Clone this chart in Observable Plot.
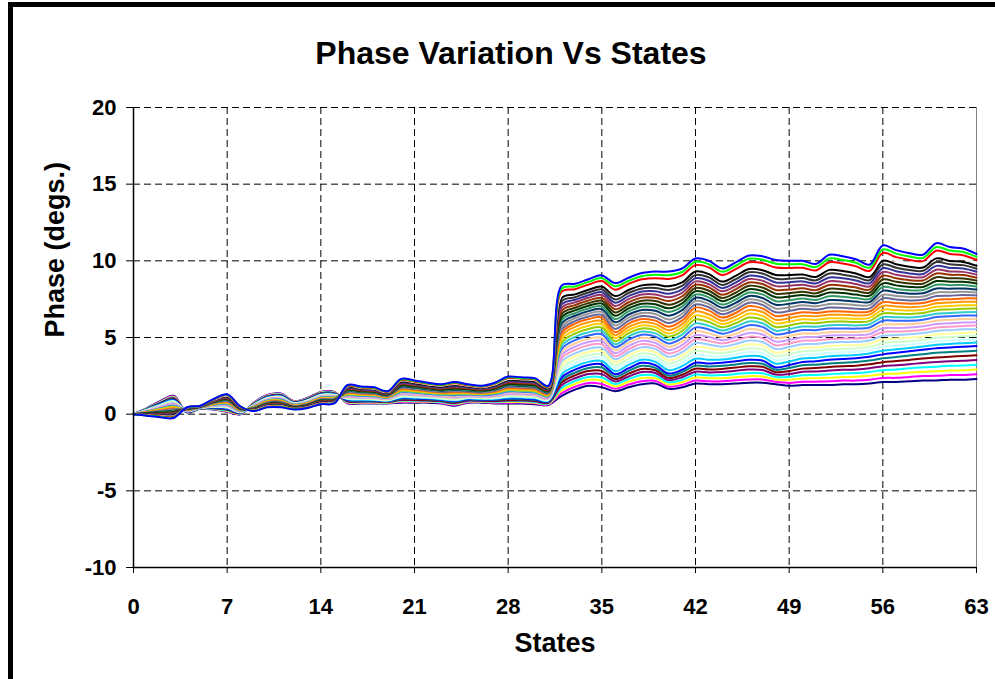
<!DOCTYPE html>
<html><head><meta charset="utf-8">
<script src="https://cdn.jsdelivr.net/npm/d3@7"></script>
<script src="https://cdn.jsdelivr.net/npm/@observablehq/plot@0.6"></script>
<style>
html,body{margin:0;padding:0;background:#fff;}
#wrap{position:relative;width:995px;height:679px;overflow:hidden;background:#fff;}
#chart{position:absolute;left:0;top:0;}
#frame{position:absolute;left:8px;top:2px;width:1100px;height:800px;border:5px solid #000;box-sizing:border-box;pointer-events:none;}
</style></head><body>
<div id="wrap"><div id="chart"></div><div id="frame"></div></div>
<script>
const chartTitle = "Phase Variation Vs States";
const xTitle = "States";
const yTitle = "Phase (degs.)";
const xTicks = [0,7,14,21,28,35,42,49,56,63];
const yTicks = [-10,-5,0,5,10,15,20];
const seriesColors = ["#000080","#FF00FF","#FFFF00","#00FFFF","#800080","#800000","#008080","#0000FF",
 "#00CCFF","#CCFFFF","#CCFFCC","#FFFF99","#99CCFF","#FF99CC","#CC99FF","#FFCC99","#3366FF","#33CCCC",
 "#99CC00","#FFCC00","#FF9900","#FF6600","#666699","#969696","#003366","#339966","#003300","#333300",
 "#993300","#993366","#333399","#333333","#000000","#FFFFFF","#FF0000","#00FF00","#0000FF"];
// phase (degs.) of each of the 37 series, one row per state 0..31
const phaseEarly = [
[0,0,0,0,0,0,0,0,0,0,0,0,0,0,0,0,0,0,0,0,0,0,0,0,0,0,0,0,0,0,0,0,0,0,0,0,0],
[.40,.39,.37,.36,.34,.33,.32,.30,.29,.28,.26,.25,.23,.22,.21,.19,.18,.16,.15,.14,.12,.11,.09,.08,.07,.05,.04,.03,.01,0,-.02,-.03,-.04,-.06,-.07,-.09,-.10],
[.85,.82,.79,.76,.73,.70,.68,.65,.62,.59,.56,.53,.50,.47,.44,.41,.38,.35,.33,.30,.27,.24,.21,.18,.15,.12,.09,.06,.03,0,-.03,-.05,-.08,-.11,-.14,-.17,-.20],
[1.20,1.16,1.12,1.08,1.04,1.00,.96,.92,.88,.84,.80,.76,.72,.68,.64,.60,.56,.52,.48,.43,.39,.35,.31,.27,.23,.19,.15,.11,.07,.03,-.01,-.05,-.09,-.13,-.17,-.21,-.25],
[.10,.11,.12,.13,.14,.15,.16,.17,.18,.19,.20,.21,.22,.23,.24,.25,.26,.27,.28,.28,.29,.30,.31,.32,.33,.34,.35,.36,.37,.38,.39,.40,.41,.42,.43,.44,.45],
[.35,.36,.36,.37,.37,.38,.38,.39,.39,.40,.41,.41,.42,.42,.43,.43,.44,.44,.45,.46,.46,.47,.47,.48,.48,.49,.49,.50,.51,.51,.52,.52,.53,.53,.54,.54,.55],
[.30,.32,.34,.36,.38,.40,.42,.44,.46,.48,.49,.51,.53,.55,.57,.59,.61,.63,.65,.67,.69,.71,.73,.75,.77,.79,.81,.83,.84,.86,.88,.90,.92,.94,.96,.98,1.00],
[.15,.18,.21,.25,.28,.31,.34,.37,.41,.44,.47,.50,.53,.57,.60,.63,.66,.69,.73,.76,.79,.82,.85,.89,.92,.95,.98,1.01,1.04,1.08,1.11,1.14,1.17,1.20,1.24,1.27,1.30],
[0,.01,.03,.04,.06,.07,.08,.10,.11,.13,.14,.15,.17,.18,.19,.21,.22,.24,.25,.26,.28,.29,.31,.32,.33,.35,.36,.38,.39,.40,.42,.43,.44,.46,.47,.49,.50],
[.75,.73,.72,.70,.69,.67,.66,.64,.63,.61,.60,.58,.57,.55,.54,.52,.51,.49,.48,.46,.44,.43,.41,.40,.38,.37,.35,.34,.32,.31,.29,.28,.26,.25,.23,.22,.20],
[1.25,1.23,1.21,1.18,1.16,1.14,1.12,1.09,1.07,1.05,1.03,1.01,.98,.96,.94,.92,.89,.87,.85,.83,.81,.78,.76,.74,.72,.69,.67,.65,.63,.61,.58,.56,.54,.52,.49,.47,.45],
[1.35,1.33,1.30,1.28,1.25,1.23,1.20,1.18,1.15,1.13,1.10,1.08,1.05,1.03,1.00,.98,.95,.93,.90,.88,.85,.83,.80,.78,.75,.73,.70,.68,.65,.63,.60,.58,.55,.53,.50,.48,.45],
[.85,.83,.82,.80,.79,.77,.76,.74,.73,.71,.70,.68,.67,.65,.64,.62,.61,.59,.58,.56,.54,.53,.51,.50,.48,.47,.45,.44,.42,.41,.39,.38,.36,.35,.33,.32,.30],
[1.05,1.03,1.01,1.00,.98,.96,.94,.92,.91,.89,.87,.85,.83,.81,.80,.78,.76,.74,.73,.71,.69,.67,.65,.64,.62,.60,.58,.56,.54,.53,.51,.49,.47,.45,.44,.42,.40],
[1.45,1.43,1.41,1.38,1.36,1.34,1.32,1.29,1.27,1.25,1.23,1.21,1.18,1.16,1.14,1.12,1.09,1.07,1.05,1.03,1.01,.98,.96,.94,.92,.89,.87,.85,.83,.81,.78,.76,.74,.72,.69,.67,.65],
[1.45,1.43,1.41,1.39,1.37,1.35,1.33,1.30,1.28,1.26,1.24,1.22,1.20,1.18,1.16,1.14,1.12,1.10,1.08,1.05,1.03,1.01,.99,.97,.95,.93,.91,.89,.87,.85,.83,.80,.78,.76,.74,.72,.70],
[.70,.73,.77,.80,.83,.87,.90,.93,.97,1.00,1.03,1.07,1.10,1.13,1.17,1.20,1.23,1.27,1.30,1.33,1.37,1.40,1.43,1.47,1.50,1.53,1.57,1.60,1.63,1.67,1.70,1.73,1.77,1.80,1.83,1.87,1.90],
[.70,.73,.76,.79,.82,.85,.88,.91,.94,.98,1.01,1.04,1.07,1.10,1.13,1.16,1.19,1.22,1.25,1.28,1.31,1.34,1.37,1.40,1.43,1.46,1.49,1.53,1.56,1.59,1.62,1.65,1.68,1.71,1.74,1.77,1.80],
[.70,.73,.76,.79,.82,.85,.88,.90,.93,.96,.99,1.02,1.05,1.08,1.11,1.14,1.17,1.20,1.23,1.25,1.28,1.31,1.34,1.37,1.40,1.43,1.46,1.49,1.52,1.55,1.58,1.60,1.63,1.66,1.69,1.72,1.75],
[.70,.72,.74,.77,.79,.81,.83,.86,.88,.90,.92,.94,.97,.99,1.01,1.03,1.06,1.08,1.10,1.12,1.14,1.17,1.19,1.21,1.23,1.26,1.28,1.30,1.32,1.34,1.37,1.39,1.41,1.43,1.46,1.48,1.50],
[.75,.79,.84,.88,.92,.97,1.01,1.05,1.09,1.14,1.18,1.22,1.27,1.31,1.35,1.40,1.44,1.48,1.53,1.57,1.61,1.65,1.70,1.74,1.78,1.83,1.87,1.91,1.96,2.00,2.04,2.09,2.13,2.17,2.21,2.26,2.30],
[.75,.79,.83,.87,.91,.95,.99,1.03,1.07,1.11,1.15,1.19,1.23,1.27,1.31,1.35,1.39,1.43,1.47,1.52,1.56,1.60,1.64,1.68,1.72,1.76,1.80,1.84,1.88,1.92,1.96,2.00,2.04,2.08,2.12,2.16,2.20],
[.75,.79,.82,.86,.89,.93,.97,1.00,1.04,1.08,1.11,1.15,1.18,1.22,1.26,1.29,1.33,1.36,1.40,1.44,1.47,1.51,1.54,1.58,1.62,1.65,1.69,1.73,1.76,1.80,1.83,1.87,1.91,1.94,1.98,2.01,2.05],
[.70,.73,.77,.80,.84,.87,.91,.94,.98,1.01,1.05,1.08,1.12,1.15,1.19,1.22,1.26,1.29,1.33,1.36,1.39,1.43,1.46,1.50,1.53,1.57,1.60,1.64,1.67,1.71,1.74,1.78,1.81,1.85,1.88,1.92,1.95],
[.55,.59,.64,.68,.72,.77,.81,.85,.89,.94,.98,1.02,1.07,1.11,1.15,1.20,1.24,1.28,1.33,1.37,1.41,1.45,1.50,1.54,1.58,1.63,1.67,1.71,1.76,1.80,1.84,1.89,1.93,1.97,2.01,2.06,2.10],
[.75,.78,.82,.85,.88,.92,.95,.98,1.02,1.05,1.08,1.12,1.15,1.18,1.22,1.25,1.28,1.32,1.35,1.38,1.42,1.45,1.48,1.52,1.55,1.58,1.62,1.65,1.68,1.72,1.75,1.78,1.82,1.85,1.88,1.92,1.95],
[.75,.78,.81,.84,.87,.90,.93,.96,.99,1.03,1.06,1.09,1.12,1.15,1.18,1.21,1.24,1.27,1.30,1.33,1.36,1.39,1.42,1.45,1.48,1.51,1.54,1.58,1.61,1.64,1.67,1.70,1.73,1.76,1.79,1.82,1.85],
[.70,.74,.78,.81,.85,.89,.93,.96,1.00,1.04,1.08,1.11,1.15,1.19,1.23,1.26,1.30,1.34,1.38,1.41,1.45,1.49,1.53,1.56,1.60,1.64,1.68,1.71,1.75,1.79,1.83,1.86,1.90,1.94,1.98,2.01,2.05],
[.70,.75,.80,.85,.89,.94,.99,1.04,1.09,1.14,1.19,1.24,1.28,1.33,1.38,1.43,1.48,1.53,1.58,1.62,1.67,1.72,1.77,1.82,1.87,1.92,1.96,2.01,2.06,2.11,2.16,2.21,2.26,2.30,2.35,2.40,2.45],
[.70,.75,.79,.84,.89,.94,.98,1.03,1.08,1.13,1.17,1.22,1.27,1.31,1.36,1.41,1.46,1.50,1.55,1.60,1.64,1.69,1.74,1.79,1.83,1.88,1.93,1.98,2.02,2.07,2.12,2.16,2.21,2.26,2.31,2.35,2.40],
[.65,.70,.74,.79,.84,.89,.93,.98,1.03,1.08,1.12,1.17,1.22,1.26,1.31,1.36,1.41,1.45,1.50,1.55,1.59,1.64,1.69,1.74,1.78,1.83,1.88,1.93,1.97,2.02,2.07,2.11,2.16,2.21,2.26,2.30,2.35],
[.60,.63,.67,.70,.74,.77,.81,.84,.88,.91,.95,.98,1.02,1.05,1.09,1.12,1.16,1.19,1.23,1.26,1.29,1.33,1.36,1.40,1.43,1.47,1.50,1.54,1.57,1.61,1.64,1.68,1.71,1.75,1.78,1.82,1.85]
];
// phase (degs.) of each of the 37 series, one row per state 32..63
const phaseLate = [
[1.20,1.37,1.54,1.71,1.89,2.06,2.23,2.40,2.61,2.81,3.02,3.23,3.44,3.64,3.85,4.06,4.26,4.47,4.68,4.89,5.09,5.30,5.51,5.71,5.92,6.13,6.33,6.54,6.75,6.95,7.16,7.37,7.57,7.78,7.99,8.19,8.40],
[1.60,1.79,1.97,2.16,2.34,2.53,2.71,2.90,3.11,3.33,3.54,3.76,3.97,4.19,4.40,4.61,4.83,5.04,5.26,5.47,5.69,5.90,6.07,6.25,6.42,6.59,6.77,6.94,7.11,7.29,7.46,7.63,7.81,7.98,8.15,8.33,8.50],
[1.85,2.04,2.24,2.43,2.62,2.81,3.01,3.20,3.41,3.63,3.84,4.06,4.27,4.49,4.70,4.91,5.13,5.34,5.56,5.77,5.99,6.20,6.37,6.55,6.72,6.89,7.07,7.24,7.41,7.59,7.76,7.93,8.11,8.28,8.45,8.63,8.80],
[1.75,1.96,2.18,2.39,2.61,2.82,3.04,3.25,3.47,3.69,3.90,4.12,4.34,4.56,4.78,4.99,5.21,5.43,5.65,5.86,6.08,6.30,6.48,6.67,6.85,7.03,7.22,7.40,7.58,7.77,7.95,8.13,8.32,8.50,8.68,8.87,9.05],
[1.50,1.66,1.81,1.97,2.13,2.29,2.44,2.60,2.80,2.99,3.19,3.39,3.58,3.78,3.98,4.17,4.37,4.56,4.76,4.96,5.15,5.35,5.56,5.78,5.99,6.20,6.42,6.63,6.84,7.06,7.27,7.48,7.70,7.91,8.12,8.34,8.55],
[1.75,1.93,2.11,2.29,2.46,2.64,2.82,3.00,3.21,3.41,3.62,3.83,4.04,4.24,4.45,4.66,4.86,5.07,5.28,5.49,5.69,5.90,6.10,6.30,6.50,6.70,6.90,7.10,7.30,7.50,7.70,7.90,8.10,8.30,8.50,8.70,8.90],
[1.95,2.15,2.35,2.55,2.75,2.95,3.15,3.35,3.55,3.76,3.96,4.16,4.37,4.57,4.78,4.98,5.18,5.39,5.59,5.79,6.00,6.20,6.40,6.60,6.80,7.00,7.20,7.40,7.60,7.80,8.00,8.20,8.40,8.60,8.80,9.00,9.20],
[2.00,2.17,2.34,2.51,2.69,2.86,3.03,3.20,3.41,3.61,3.82,4.03,4.24,4.44,4.65,4.86,5.06,5.27,5.48,5.69,5.89,6.10,6.31,6.53,6.74,6.95,7.17,7.38,7.59,7.81,8.02,8.23,8.45,8.66,8.87,9.09,9.30],
[1.65,1.79,1.94,2.08,2.22,2.36,2.51,2.65,2.87,3.09,3.30,3.52,3.74,3.96,4.18,4.39,4.61,4.83,5.05,5.26,5.48,5.70,5.94,6.18,6.42,6.66,6.90,7.14,7.38,7.62,7.86,8.10,8.34,8.58,8.82,9.06,9.30],
[1.75,1.91,2.08,2.24,2.41,2.57,2.74,2.90,3.13,3.36,3.59,3.81,4.04,4.27,4.50,4.73,4.96,5.19,5.41,5.64,5.87,6.10,6.33,6.55,6.78,7.01,7.23,7.46,7.69,7.91,8.14,8.37,8.59,8.82,9.05,9.27,9.50],
[2.00,2.19,2.39,2.58,2.77,2.96,3.16,3.35,3.61,3.86,4.12,4.38,4.64,4.89,5.15,5.41,5.66,5.92,6.18,6.44,6.69,6.95,7.16,7.38,7.59,7.80,8.02,8.23,8.44,8.66,8.87,9.08,9.30,9.51,9.72,9.94,10.15],
[1.95,2.14,2.34,2.53,2.72,2.91,3.11,3.30,3.55,3.79,4.04,4.29,4.53,4.78,5.03,5.27,5.52,5.76,6.01,6.26,6.50,6.75,6.97,7.18,7.40,7.62,7.83,8.05,8.27,8.48,8.70,8.92,9.13,9.35,9.57,9.78,10.00],
[1.95,2.15,2.35,2.55,2.75,2.95,3.15,3.35,3.56,3.77,3.98,4.19,4.40,4.61,4.82,5.04,5.25,5.46,5.67,5.88,6.09,6.30,6.51,6.73,6.94,7.15,7.37,7.58,7.79,8.01,8.22,8.43,8.65,8.86,9.07,9.29,9.50],
[2.00,2.21,2.41,2.62,2.83,3.04,3.24,3.45,3.68,3.90,4.13,4.35,4.58,4.80,5.03,5.25,5.48,5.70,5.93,6.15,6.38,6.60,6.82,7.04,7.26,7.48,7.70,7.92,8.14,8.36,8.58,8.80,9.02,9.24,9.46,9.68,9.90],
[2.05,2.26,2.48,2.69,2.91,3.12,3.34,3.55,3.80,4.05,4.30,4.55,4.80,5.05,5.30,5.55,5.80,6.05,6.30,6.55,6.80,7.05,7.27,7.49,7.71,7.93,8.15,8.37,8.59,8.81,9.03,9.25,9.47,9.69,9.91,10.13,10.35],
[2.05,2.26,2.46,2.67,2.88,3.09,3.29,3.50,3.74,3.99,4.23,4.47,4.71,4.96,5.20,5.44,5.69,5.93,6.17,6.41,6.66,6.90,7.13,7.35,7.58,7.81,8.03,8.26,8.49,8.71,8.94,9.17,9.39,9.62,9.85,10.07,10.30],
[1.95,2.11,2.26,2.42,2.58,2.74,2.89,3.05,3.29,3.53,3.77,4.01,4.25,4.49,4.73,4.96,5.20,5.44,5.68,5.92,6.16,6.40,6.64,6.89,7.13,7.37,7.62,7.86,8.10,8.35,8.59,8.83,9.08,9.32,9.56,9.81,10.05],
[1.85,2.04,2.24,2.43,2.62,2.81,3.01,3.20,3.44,3.67,3.91,4.14,4.38,4.61,4.85,5.09,5.32,5.56,5.79,6.03,6.26,6.50,6.73,6.97,7.20,7.43,7.67,7.90,8.13,8.37,8.60,8.83,9.07,9.30,9.53,9.77,10.00],
[1.90,2.11,2.33,2.54,2.76,2.97,3.19,3.40,3.63,3.86,4.10,4.33,4.56,4.79,5.02,5.26,5.49,5.72,5.95,6.19,6.42,6.65,6.87,7.10,7.32,7.54,7.77,7.99,8.21,8.44,8.66,8.88,9.11,9.33,9.55,9.78,10.00],
[1.90,2.12,2.34,2.56,2.79,3.01,3.23,3.45,3.68,3.90,4.13,4.35,4.58,4.80,5.03,5.25,5.48,5.70,5.93,6.15,6.38,6.60,6.81,7.03,7.24,7.45,7.67,7.88,8.09,8.31,8.52,8.73,8.95,9.16,9.37,9.59,9.80],
[1.90,2.14,2.37,2.61,2.84,3.08,3.31,3.55,3.78,4.00,4.23,4.45,4.68,4.90,5.13,5.35,5.58,5.80,6.03,6.25,6.48,6.70,6.95,7.19,7.44,7.69,7.93,8.18,8.43,8.67,8.92,9.17,9.41,9.66,9.91,10.15,10.40],
[1.95,2.19,2.42,2.66,2.89,3.13,3.36,3.60,3.82,4.04,4.26,4.49,4.71,4.93,5.15,5.37,5.59,5.81,6.04,6.26,6.48,6.70,6.94,7.18,7.42,7.66,7.90,8.14,8.38,8.62,8.86,9.10,9.34,9.58,9.82,10.06,10.30],
[1.95,2.19,2.44,2.68,2.92,3.16,3.41,3.65,3.86,4.08,4.29,4.51,4.72,4.94,5.15,5.36,5.58,5.79,6.01,6.22,6.44,6.65,6.88,7.11,7.34,7.57,7.80,8.03,8.26,8.49,8.72,8.95,9.18,9.41,9.64,9.87,10.10],
[2.00,2.25,2.50,2.75,3.00,3.25,3.50,3.75,3.96,4.17,4.38,4.59,4.80,5.01,5.22,5.44,5.65,5.86,6.07,6.28,6.49,6.70,6.90,7.11,7.31,7.51,7.72,7.92,8.12,8.33,8.53,8.73,8.94,9.14,9.34,9.55,9.75],
[2.10,2.36,2.61,2.87,3.13,3.39,3.64,3.90,4.14,4.39,4.63,4.87,5.11,5.36,5.60,5.84,6.09,6.33,6.57,6.81,7.06,7.30,7.55,7.79,8.04,8.29,8.53,8.78,9.03,9.27,9.52,9.77,10.01,10.26,10.51,10.75,11.00],
[2.10,2.37,2.64,2.91,3.19,3.46,3.73,4.00,4.23,4.46,4.70,4.93,5.16,5.39,5.62,5.86,6.09,6.32,6.55,6.79,7.02,7.25,7.48,7.71,7.94,8.17,8.40,8.63,8.86,9.09,9.32,9.55,9.78,10.01,10.24,10.47,10.70],
[2.15,2.43,2.71,2.99,3.26,3.54,3.82,4.10,4.32,4.54,4.76,4.99,5.21,5.43,5.65,5.87,6.09,6.31,6.54,6.76,6.98,7.20,7.42,7.64,7.86,8.08,8.30,8.52,8.74,8.96,9.18,9.40,9.62,9.84,10.06,10.28,10.50],
[2.20,2.49,2.77,3.06,3.34,3.63,3.91,4.20,4.42,4.64,4.85,5.07,5.29,5.51,5.73,5.94,6.16,6.38,6.60,6.81,7.03,7.25,7.46,7.67,7.88,8.09,8.30,8.51,8.72,8.93,9.14,9.35,9.56,9.77,9.98,10.19,10.40],
[2.20,2.50,2.80,3.10,3.40,3.70,4.00,4.30,4.53,4.75,4.98,5.20,5.43,5.65,5.88,6.10,6.33,6.55,6.78,7.00,7.23,7.45,7.70,7.94,8.19,8.44,8.68,8.93,9.18,9.42,9.67,9.92,10.16,10.41,10.66,10.90,11.15],
[2.25,2.55,2.85,3.15,3.45,3.75,4.05,4.35,4.58,4.80,5.03,5.25,5.48,5.70,5.93,6.15,6.38,6.60,6.83,7.05,7.28,7.50,7.73,7.95,8.18,8.41,8.63,8.86,9.09,9.31,9.54,9.77,9.99,10.22,10.45,10.67,10.90],
[2.25,2.56,2.86,3.17,3.48,3.79,4.09,4.40,4.63,4.85,5.08,5.30,5.53,5.75,5.98,6.20,6.43,6.65,6.88,7.10,7.33,7.55,7.77,7.98,8.20,8.42,8.63,8.85,9.07,9.28,9.50,9.72,9.93,10.15,10.37,10.58,10.80],
[2.30,2.61,2.91,3.22,3.53,3.84,4.14,4.45,4.67,4.89,5.11,5.34,5.56,5.78,6.00,6.22,6.44,6.66,6.89,7.11,7.33,7.55,7.74,7.94,8.13,8.32,8.52,8.71,8.90,9.10,9.29,9.48,9.68,9.87,10.06,10.26,10.45]
];

const phaseByState = phaseEarly.concat(phaseLate);
const seriesIds = seriesColors.map((c, i) => i + 1);
const rows = [];
seriesIds.forEach((id, k) => {
  phaseByState.forEach((vals, s) => rows.push({state: s, series: id, phase: vals[k]}));
});

const font = "'Liberation Sans', Arial, Helvetica, sans-serif";
const dash = "7,4";
const chart = Plot.plot({
  width: 995, height: 679,
  marginLeft: 133, marginRight: 19, marginTop: 107, marginBottom: 112,
  style: {fontFamily: font, fontWeight: "bold", fontSize: "22px", color: "#000", background: "transparent", overflow: "visible"},
  x: {domain: [0, 63], ticks: xTicks, tickSize: 6, tickPadding: 25, tickFormat: d => String(d), label: null},
  y: {domain: [-10, 20], ticks: yTicks, tickSize: 7, tickPadding: 10, tickFormat: d => String(d), label: null},
  color: {type: "ordinal", domain: seriesIds, range: seriesColors},
  marks: [
    Plot.ruleY(yTicks.filter(d => d > -10), {stroke: "#000", strokeDasharray: dash, strokeWidth: 1}),
    Plot.ruleX(xTicks.filter(d => d > 0 && d < 63), {stroke: "#000", strokeDasharray: dash, strokeWidth: 1}),
    Plot.ruleX([63], {stroke: "#808080", strokeWidth: 1}),
    Plot.line(rows, {x: "state", y: "phase", z: "series", stroke: "series", curve: "catmull-rom", strokeWidth: 2}),
    Plot.ruleX([0], {stroke: "#000", strokeWidth: 1.5}),
    Plot.ruleY([-10], {stroke: "#000", strokeWidth: 1.5}),
    Plot.text([chartTitle], {text: d => d, frameAnchor: "top", lineAnchor: "middle", dx: -44, dy: -54, fontSize: 32, fontWeight: "bold"}),
    Plot.text([xTitle], {text: d => d, frameAnchor: "bottom", lineAnchor: "middle", dy: 76, fontSize: 27, fontWeight: "bold"}),
    Plot.text([yTitle], {text: d => d, frameAnchor: "left", lineAnchor: "middle", rotate: -90, dx: -78, fontSize: 27, fontWeight: "bold"})
  ]
});
document.getElementById("chart").appendChild(chart);
</script>
</body></html>
